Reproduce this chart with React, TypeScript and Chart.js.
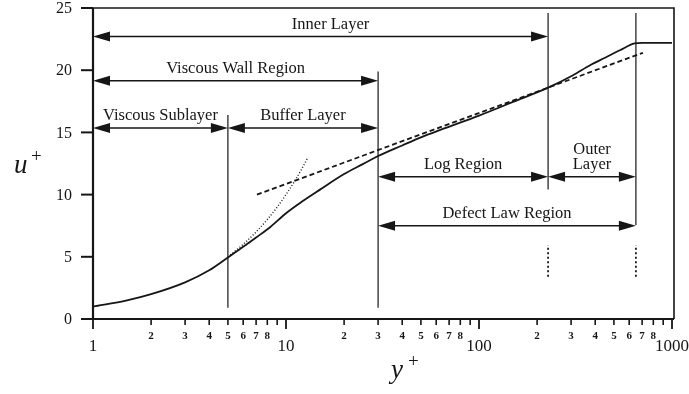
import React, { useEffect, useRef } from "react";
import { Chart, registerables } from "chart.js";

Chart.register(...registerables);

// Mean velocity profile u+ against wall distance y+
const yPlus = [1, 1.5, 2, 3, 4, 5, 6, 7, 8.3, 10, 12, 15, 20, 25, 30, 40, 50, 63, 100, 150, 228, 307, 376, 450, 537, 640, 700, 1000];
const uPlus = [1.0, 1.5, 2.0, 2.95, 3.92, 4.95, 5.8, 6.55, 7.4, 8.5, 9.4, 10.4, 11.65, 12.45, 13.1, 13.95, 14.6, 15.2, 16.35, 17.45, 18.6, 19.6, 20.4, 21.0, 21.6, 22.15, 22.2, 22.2];

// Viscous sublayer law u+ = y+
const sublayerY = [5, 6, 7, 8, 9, 10, 11, 12, 13];
const sublayerU = [5, 6, 7, 8, 9, 10, 11, 12, 13];

// Log law
const logLawY = [7.07, 707];
const logLawU = [10.0, 21.4];

// Region boundaries (solid) and defect-law marks (dotted)
const boundaryY = [5, 30, 228, 650];
const boundaryTop = [16.4, 19.9, 24.6, 24.6];
const boundaryBottom = [0.9, 0.9, 10.4, 7.55];
const markY = [228, 650];
const markTop = [5.95, 5.95];
const markBottom = [3.4, 3.4];

// Region arrows
const regionNames = [["Inner Layer"], ["Viscous Wall Region"], ["Viscous Sublayer"], ["Buffer Layer"], ["Log Region"], ["Outer", "Layer"], ["Defect Law Region"]];
const regionFrom = [1, 1, 1, 5, 30, 228, 30];
const regionTo = [228, 30, 5, 30, 228, 650, 650];
const regionLevel = [22.7, 19.15, 15.35, 15.35, 11.44, 11.44, 7.5];

// Axis ticks
const yTicks = [0, 5, 10, 15, 20, 25];
const decades = [1, 10, 100, 1000];
const minorDigits = [2, 3, 4, 5, 6, 7, 8, 9];
const labelledDigits = [2, 3, 4, 5, 6, 7, 8];

const ink = "#161616";
const serif = '"Liberation Serif", "Times New Roman", serif';
// horizontal nudge for region names that sit off-centre on their arrows
const nameShift: Record<string, number> = { "Inner Layer": 10 };

function seg(ctx: CanvasRenderingContext2D, x1: number, y1: number, x2: number, y2: number) {
  ctx.beginPath();
  ctx.moveTo(x1, y1);
  ctx.lineTo(x2, y2);
  ctx.stroke();
}

function head(ctx: CanvasRenderingContext2D, tipX: number, y: number, dir: number) {
  ctx.beginPath();
  ctx.moveTo(tipX, y);
  ctx.lineTo(tipX + dir * 17, y - 5);
  ctx.lineTo(tipX + dir * 17, y + 5);
  ctx.closePath();
  ctx.fill();
}

const decorPlugin = {
  id: "decor",
  afterDatasetsDraw(chart: any) {
    const { ctx, chartArea: a, scales } = chart;
    const xs = scales.x;
    const ys = scales.y;
    ctx.save();
    ctx.strokeStyle = ink;
    ctx.fillStyle = ink;

    // frame
    ctx.lineWidth = 1.6;
    ctx.beginPath();
    ctx.moveTo(a.left, a.top);
    ctx.lineTo(a.right, a.top);
    ctx.lineTo(a.right, a.bottom);
    ctx.stroke();
    ctx.lineWidth = 2.2;
    ctx.beginPath();
    ctx.moveTo(a.left, a.top);
    ctx.lineTo(a.left, a.bottom);
    ctx.lineTo(a.right, a.bottom);
    ctx.stroke();

    // y ticks
    ctx.font = `16px ${serif}`;
    ctx.textAlign = "right";
    ctx.textBaseline = "middle";
    yTicks.forEach((v) => {
      const py = ys.getPixelForValue(v);
      ctx.lineWidth = 2;
      seg(ctx, a.left - 12, py, a.left, py);
      ctx.fillText(String(v), a.left - 21, py + 1);
    });

    // x ticks
    ctx.textAlign = "center";
    decades.forEach((d) => {
      const px = xs.getPixelForValue(d);
      ctx.lineWidth = 1.8;
      seg(ctx, px, a.bottom, px, a.bottom + 10);
      ctx.font = `17px ${serif}`;
      ctx.fillText(String(d), px, a.bottom + 28);
      if (d < 1000) {
        minorDigits.forEach((m) => {
          const mx = xs.getPixelForValue(d * m);
          ctx.lineWidth = 1.6;
          seg(ctx, mx, a.bottom, mx, a.bottom + 6);
          if (labelledDigits.includes(m)) {
            ctx.font = `bold 11px ${serif}`;
            ctx.fillText(String(m), mx, a.bottom + 17);
          }
        });
      }
    });

    // region arrows and names
    regionNames.forEach((lines, i) => {
      const x1 = xs.getPixelForValue(regionFrom[i]);
      const x2 = xs.getPixelForValue(regionTo[i]);
      const py = ys.getPixelForValue(regionLevel[i]);
      ctx.lineWidth = 1.5;
      seg(ctx, x1 + 6, py, x2 - 6, py);
      head(ctx, x1, py, 1);
      head(ctx, x2, py, -1);
      ctx.font = `16.5px ${serif}`;
      ctx.textAlign = "center";
      ctx.textBaseline = "alphabetic";
      const cx = (x1 + x2) / 2 + (nameShift[lines.join(" ")] || 0);
      lines.forEach((t, k) => {
        const base = py - 8 - (lines.length - 1 - k) * 15;
        ctx.fillText(t, cx, base);
      });
    });

    // axis titles
    ctx.textAlign = "left";
    ctx.textBaseline = "alphabetic";
    ctx.font = `italic 27px ${serif}`;
    ctx.fillText("u", 14, 173);
    ctx.font = `19px ${serif}`;
    ctx.fillText("+", 31, 162);
    ctx.font = `italic 27px ${serif}`;
    ctx.fillText("y", 391, 378);
    ctx.font = `19px ${serif}`;
    ctx.fillText("+", 408, 367);

    ctx.restore();
  },
};

function pts(xs: number[], ys: number[]) {
  return xs.map((x, i) => ({ x, y: ys[i] }));
}

export default function App() {
  const ref = useRef<HTMLCanvasElement | null>(null);

  useEffect(() => {
    if (!ref.current) return;
    const lineBase = { pointRadius: 0, borderColor: ink, fill: false };
    const datasets: any[] = [
      { ...lineBase, data: pts(yPlus, uPlus), borderWidth: 1.8, cubicInterpolationMode: "monotone" },
      { ...lineBase, data: pts(logLawY, logLawU), borderWidth: 1.8, borderDash: [5, 3] },
      { ...lineBase, data: pts(sublayerY, sublayerU), borderWidth: 1.4, borderDash: [1, 2], cubicInterpolationMode: "monotone" },
    ];
    boundaryY.forEach((b, i) => {
      datasets.push({ ...lineBase, borderWidth: 1.2, data: [{ x: b, y: boundaryBottom[i] }, { x: b, y: boundaryTop[i] }] });
    });
    markY.forEach((b, i) => {
      datasets.push({ ...lineBase, borderWidth: 1.8, borderDash: [2, 2.5], data: [{ x: b, y: markBottom[i] }, { x: b, y: markTop[i] }] });
    });

    const chart = new Chart(ref.current, {
      type: "line",
      data: { datasets },
      options: {
        animation: false,
        responsive: false,
        devicePixelRatio: 1,
        layout: { padding: { left: 93, right: 15, top: 8, bottom: 75 } },
        plugins: { legend: { display: false }, tooltip: { enabled: false } },
        scales: {
          x: { type: "logarithmic", min: 1, max: 1024, display: false },
          y: { type: "linear", min: 0, max: 25, display: false },
        },
      },
      plugins: [decorPlugin],
    });
    return () => chart.destroy();
  }, []);

  return (
    <div style={{ position: "fixed", left: 0, top: 0, width: 689, height: 394, background: "#fff" }}>
      <canvas ref={ref} width={689} height={394} />
    </div>
  );
}
